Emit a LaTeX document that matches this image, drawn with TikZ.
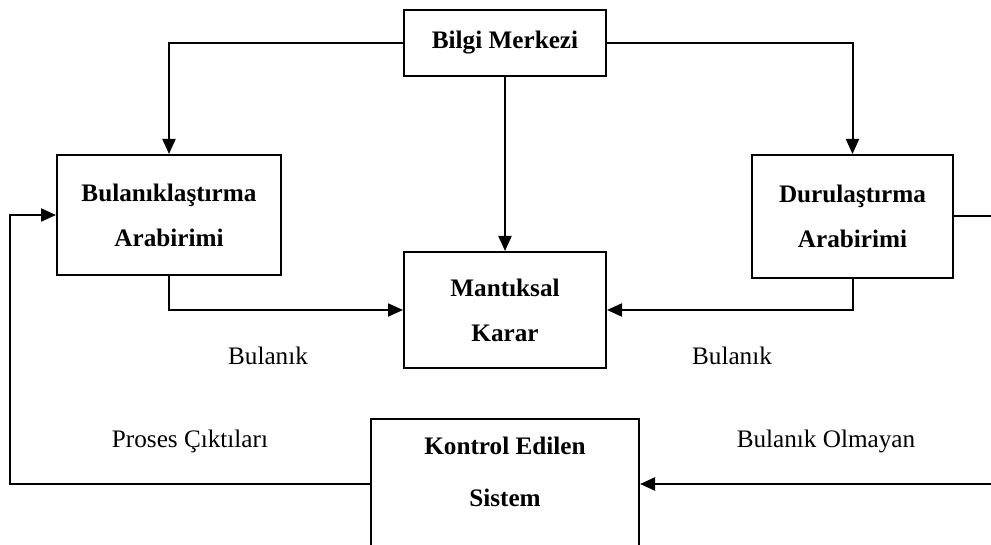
\documentclass[tikz,border=0pt]{standalone}
\usepackage{fontspec}
\setmainfont{Liberation Serif}
\usepackage{tikz}
\usetikzlibrary{arrows.meta, positioning}

\begin{document}
\begin{tikzpicture}[
  x={(0.5pt,0)}, y={(0,-0.5pt)},
  >={Triangle[length=7.5pt, width=6.5pt]},
  line width=1pt,
  kutu/.style={draw, line width=1pt, rectangle, align=center, inner sep=0pt, font=\fontsize{12.6}{22.5}\selectfont\bfseries},
  etiket/.style={font=\fontsize{12.6}{15}\selectfont, inner sep=0pt}
]
\useasboundingbox (0,0) rectangle (991,545);
\clip (0,0) rectangle (991,545);

% Nodes
\node[kutu, minimum width=101pt, minimum height=33pt] (bilgi) at (505,43) {Bilgi Merkezi};
\node[kutu, minimum width=112pt, minimum height=60pt] (bulanik) at (169,215) {Bulanıklaştırma\\Arabirimi};
\node[kutu, minimum width=100.5pt, minimum height=61.5pt] (durul) at (852.5,216.5) {Durulaştırma\\Arabirimi};
\node[kutu, minimum width=101pt, minimum height=58pt] (mantiksal) at (505,310) {Mantıksal\\Karar};
\node[kutu, anchor=north, minimum width=134pt, minimum height=65pt, text height=43.5pt, text depth=21.5pt] (kontrol) at (505,418) {Kontrol Edilen\\[3.5pt]Sistem};

\node[etiket] (bulanik1) at (268,356) {Bulanık};
\node[etiket] (bulanik2) at (732,356) {Bulanık};
\node[etiket] (proses) at (190,441) {Proses Çıktıları};
\node[etiket] (olmayan) at (826,441) {Bulanık Olmayan};

\coordinate (solhat) at (10,300);
\coordinate (saghat) at (1000,300);

% Edges
\draw[->] (bilgi.west) -| (bulanik.north);
\draw[->] (bilgi.east) -| (durul.north);
\draw[->] (bilgi) -- (mantiksal);
\draw[->] (bulanik.south) |- (mantiksal.west);
\draw[->] (durul.south) |- (mantiksal.east);

% Feedback loops
\draw[->] (durul.east) -| (saghat) |- (kontrol.east);
\draw[->] (kontrol.west) -| (solhat) |- (bulanik.west);

\end{tikzpicture}
\end{document}
